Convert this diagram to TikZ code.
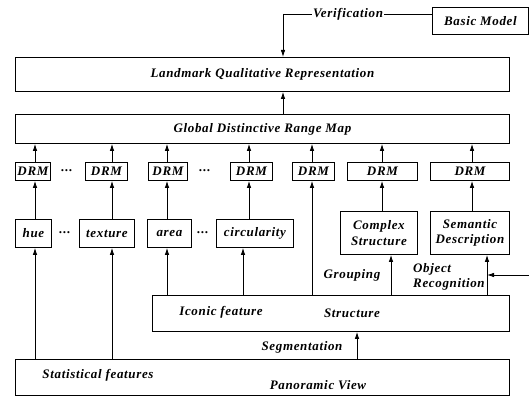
\documentclass[tikz,border=0pt]{standalone}
\usepackage{fontspec}
\setmainfont{Liberation Serif}[LetterSpace=5]
\usetikzlibrary{arrows.meta}
\tikzset{
  box/.style={draw, line width=0.9pt, inner sep=0pt, font=\bfseries\itshape\fontsize{13}{15.5}\selectfont},
  lbl/.style={inner sep=1pt, font=\bfseries\itshape\fontsize{13}{15.5}\selectfont},
  conn/.style={line width=0.8pt, -{Latex[length=7pt,width=4.5pt]}},
  plain/.style={line width=0.8pt},
}
\newcommand{\boxat}[5]{\node[box, minimum width={(#3-#1)*1pt}, minimum height={(#4-#2)*1pt}, anchor=north west, align=center] (#5) at (#1,#2)}
\begin{document}
\begin{tikzpicture}[x=1pt,y=-1pt]
\useasboundingbox (0,0) rectangle (529,396);
% top boxes
\boxat{432}{7}{528}{34}{basic} {Basic Model};
\boxat{15}{57}{509}{91}{lqr} {Landmark Qualitative Representation};
\boxat{15}{114}{509}{143}{gdrm} {Global Distinctive Range Map};
% DRM row
\boxat{15}{162}{50}{180}{d1} {DRM};
\boxat{85}{162}{127}{180}{d2} {DRM};
\boxat{148}{162}{187}{180}{d3} {DRM};
\boxat{230}{162}{272}{180}{d4} {DRM};
\boxat{292}{162}{334}{180}{d5} {DRM};
\boxat{347}{162}{417}{180}{d6} {DRM};
\boxat{430}{162}{509}{180}{d7} {DRM};
\node[lbl] (dots1) at (67,171) {...};
\node[lbl] (dots2) at (205,171) {...};
% feature row
\boxat{15}{219}{51}{247}{hue} {hue};
\boxat{79}{219}{134}{247}{tex} {texture};
\boxat{147}{219}{191}{247}{area} {area};
\boxat{216}{219}{293}{247}{circ} {circularity};
\boxat{340}{211}{417}{254}{cplx} {Complex\\Structure};
\boxat{430}{211}{509}{254}{sem} {Semantic\\Description};
\node[lbl] (dots3) at (65,233) {...};
\node[lbl] (dots4) at (203,233) {...};
% lower boxes
\boxat{152}{295}{509}{331}{struct} {};
\boxat{15}{359}{509}{395}{pan} {};
\node[lbl] (iconic) at (221,312) {Iconic feature};
\node[lbl] (structlbl) at (352,313) {Structure};
\node[lbl] (stat) at (98,375) {Statistical features};
\node[lbl] (panlbl) at (318,385) {Panoramic View};
\node[lbl] (seg) at (302,347) {Segmentation};
\node[lbl] (grp) at (352,275) {Grouping};
\node[lbl, align=left, anchor=west] (objrec) at (412,277) {Object\\Recognition};
% verification
\coordinate (vturn) at (283,14);
\draw[plain] (basic.west |- vturn) -- (vturn);
\draw[conn] (vturn) -- (vturn |- lqr.north);
\node[lbl, fill=white, inner xsep=1pt] (verif) at (348,14) {Verification};
% GDRM -> LQR
\draw[conn] (gdrm.north -| vturn) -- (lqr.south -| vturn);
% DRM -> GDRM
\foreach \n/\x in {d1/35,d2/112,d3/167,d4/249,d5/312,d6/382,d7/472}{
  \coordinate (X) at (\x,0);
  \draw[conn] (\n.north -| X) -- (gdrm.south -| X);}
% features -> DRM
\foreach \f/\n/\x in {hue/d1/35,tex/d2/112,area/d3/167,circ/d4/249,cplx/d6/382,sem/d7/472}{
  \coordinate (X) at (\x,0);
  \draw[conn] (\f.north -| X) -- (\n.south -| X);}
% panoramic -> features
\foreach \f/\x in {hue/35,tex/112}{
  \coordinate (X) at (\x,0);
  \draw[conn] (pan.north -| X) -- (\f.south -| X);}
% structure -> features
\foreach \f/\x in {area/167,circ/243,d5/312,cplx/391,sem/487}{
  \coordinate (X) at (\x,0);
  \draw[conn] (struct.north -| X) -- (\f.south -| X);}
% segmentation
\coordinate (segx) at (357,0);
\draw[conn] (pan.north -| segx) -- (struct.south -| segx);
% object recognition input
\coordinate (ext) at (529,275);
\coordinate (semx) at (487,0);
\draw[conn] (ext) -- (ext -| semx);
\end{tikzpicture}
\end{document}
